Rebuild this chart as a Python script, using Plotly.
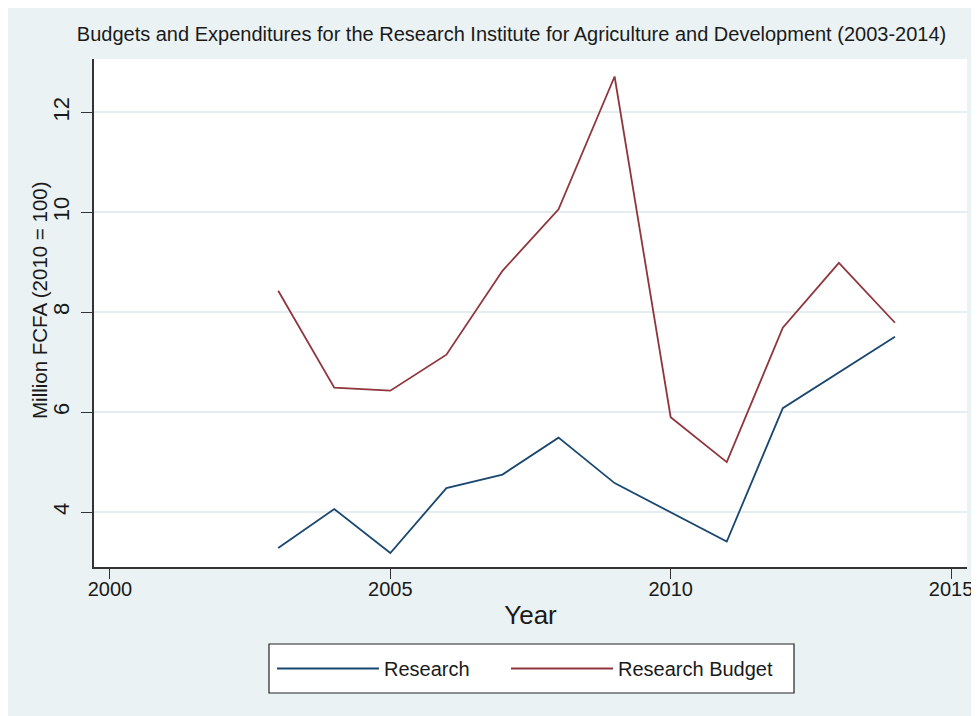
import plotly.graph_objects as go

years = [2003, 2004, 2005, 2006, 2007, 2008, 2009, 2010, 2011, 2012, 2013, 2014]
research = [3.28, 4.06, 3.18, 4.48, 4.75, 5.49, 4.58, 4.00, 3.41, 6.08, 6.79, 7.51]
research_budget = [8.43, 6.49, 6.43, 7.15, 8.83, 10.06, 12.72, 5.90, 5.00, 7.69, 8.99, 7.79]
x_ticks = [2000, 2005, 2010, 2015]
y_ticks = [4, 6, 8, 10, 12]

FONT = "Liberation Sans, Arial, sans-serif"
NAVY = "#1A476F"
MAROON = "#90353B"
BG = "#EAF2F3"

# the page body adds an 8px offset; figure coordinates = screen - 8
OFF = 8
W, H = 971, 708
L, R, T, B = 94 - OFF, 967 - OFF, 59 - OFF, 567 - OFF
PW, PH = R - L, B - T


def px_x(p):
    return (p - OFF - L) / PW


def px_y(p):
    return (B - (p - OFF)) / PH


fig = go.Figure()
fig.add_trace(go.Scatter(x=years, y=research, mode="lines", name="Research",
                         line=dict(color=NAVY, width=1.8), legendwidth=117))
fig.add_trace(go.Scatter(x=years, y=research_budget, mode="lines", name="Research Budget",
                         line=dict(color=MAROON, width=1.8)))

# legend frame
fig.add_shape(type="rect", xref="paper", yref="paper", layer="above",
              x0=px_x(269), x1=px_x(794), y0=px_y(693), y1=px_y(644),
              fillcolor="white", line=dict(color="#222", width=1.2))

# y-axis title (placed as in the reference, slightly above plot centre)
fig.add_annotation(text="Million FCFA (2010 = 100)", xref="paper", yref="paper",
                   x=px_x(39), y=px_y(300), xanchor="center", yanchor="middle",
                   textangle=-90, showarrow=False,
                   font=dict(size=20.5, family=FONT, color="#1a1a1a"))

fig.update_layout(
    width=W, height=H,
    margin=dict(l=L, r=W - R, t=T, b=H - B, autoexpand=False),
    paper_bgcolor=BG, plot_bgcolor="white",
    font=dict(family=FONT, color="#1a1a1a"),
    title=dict(text="Budgets and Expenditures for the Research Institute for Agriculture and Development (2003-2014)",
               x=(511.5 - OFF) / W, xref="container", xanchor="center",
               y=1 - 26 / H, yref="container", yanchor="middle",
               font=dict(size=20, family=FONT, color="#1a1a1a")),
    xaxis=dict(range=[1999.715, 2015.285], tickvals=x_ticks, ticks="outside", ticklen=10,
               tickcolor="#333", tickwidth=1, showline=True, linecolor="#333", linewidth=1.5,
               showgrid=False, zeroline=False, tickfont=dict(size=20), automargin=False,
               ticklabelstandoff=-7,
               title=dict(text="Year", font=dict(size=26), standoff=7)),
    yaxis=dict(range=[2.9, 13.07], tickvals=y_ticks, ticks="outside", ticklen=11,
               tickcolor="#333", tickwidth=1, showline=True, linecolor="#333", linewidth=1.5,
               showgrid=True, gridcolor="#E4EEF0", gridwidth=2, zeroline=False,
               tickangle=-90, tickfont=dict(size=22), automargin=False,
               ticklabelstandoff=3),
    legend=dict(orientation="h", x=px_x(272), xanchor="left",
                y=px_y(668.5), yanchor="middle",
                bgcolor="rgba(0,0,0,0)", borderwidth=0,
                font=dict(size=20), itemwidth=102),
    showlegend=True,
)

fig.write_html("out.html")
